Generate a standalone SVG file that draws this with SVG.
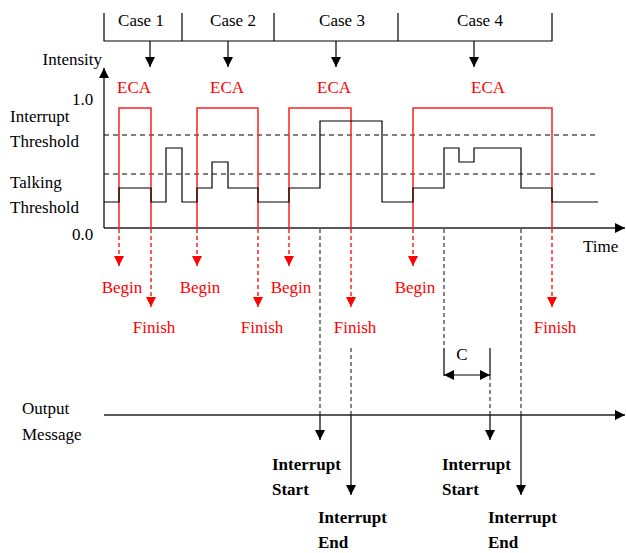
<svg xmlns="http://www.w3.org/2000/svg" width="626" height="553" viewBox="0 0 626 553">
<defs>
<style>
.t{font-family:'Liberation Serif','Times New Roman',serif;font-size:17px;fill:#000}
.t.red{fill:#ff0000}
.t.b{font-weight:bold}
.mid{text-anchor:middle}
.end{text-anchor:end}
.ln{stroke:#000;stroke-width:1.2;fill:none}
.ax{stroke:#222;stroke-width:1.4;fill:none}
.dsh{stroke:#000;stroke-width:1;stroke-dasharray:5 4;fill:none}
.bd{stroke:#333;stroke-width:1.2;stroke-dasharray:4 3;fill:none}
.rl{stroke:#ff2020;stroke-width:1.5;fill:none}
.rd{stroke:#ff2020;stroke-width:1.5;stroke-dasharray:4 3;fill:none}
</style>
<marker id="ab" viewBox="0 0 10 10" refX="10" refY="5" markerWidth="10" markerHeight="10" markerUnits="userSpaceOnUse" orient="auto"><path d="M0,0 L10,5 L0,10 z" fill="#000"/></marker>
<marker id="abs" viewBox="0 0 10 10" refX="0" refY="5" markerWidth="10" markerHeight="10" markerUnits="userSpaceOnUse" orient="auto"><path d="M10,0 L0,5 L10,10 z" fill="#000"/></marker>
<marker id="ar" viewBox="0 0 10 10" refX="10" refY="5" markerWidth="10" markerHeight="10" markerUnits="userSpaceOnUse" orient="auto"><path d="M0,0 L10,5 L0,10 z" fill="#ff0000"/></marker>
</defs>
<rect width="626" height="553" fill="#fff"/>

<g id="cases">
<path class="ln" d="M104,13 V41 H552 V13 M182,13 V41 M274,13 V41 M398,13 V41"/>
<text class="t mid" x="141" y="26">Case 1</text>
<text class="t mid" x="233" y="26">Case 2</text>
<text class="t mid" x="342" y="26">Case 3</text>
<text class="t mid" x="480" y="26">Case 4</text>
</g>

<g id="axes">
<line class="ax" x1="104" y1="228" x2="104" y2="68" marker-end="url(#ab)"/>
<line class="ax" x1="104" y1="228" x2="625" y2="228" marker-end="url(#ab)"/>
<text class="t end" x="102" y="65">Intensity</text>
<text class="t" x="72" y="105">1.0</text>
<text class="t" x="72" y="240">0.0</text>
<text class="t" x="583" y="252">Time</text>
<text class="t" x="10" y="122">Interrupt</text>
<text class="t" x="10" y="147">Threshold</text>
<text class="t" x="10" y="188">Talking</text>
<text class="t" x="10" y="213">Threshold</text>
</g>

<g id="thresholds">
<line class="dsh" x1="104" y1="135" x2="597" y2="135"/>
<line class="dsh" x1="104" y1="174" x2="597" y2="174"/>
</g>

<g id="eca">
<path class="rl" d="M119,228 V108 H151 V228"/>
<path class="rl" d="M197,228 V108 H258 V228"/>
<path class="rl" d="M289,228 V108 H351 V228"/>
<path class="rl" d="M413,228 V108 H552 V228"/>
<text class="t red mid" x="134" y="93">ECA</text>
<text class="t red mid" x="227" y="93">ECA</text>
<text class="t red mid" x="334" y="93">ECA</text>
<text class="t red mid" x="488" y="93">ECA</text>
</g>

<g id="signal">
<path class="ln" d="M104,202 H119 V188 H151 V202 H166 V148 H182 V202 H197 V188 H212 V162 H228 V188 H258 V202 H289 V188 H320 V121 H382 V202 H413 V188 H444 V148 H459 V162 H474 V148 H521 V188 H552 V202 H598"/>
</g>

<g id="case-arrows">
<line class="ln" x1="150" y1="41" x2="150" y2="67" marker-end="url(#ab)"/>
<line class="ln" x1="228" y1="41" x2="228" y2="67" marker-end="url(#ab)"/>
<line class="ln" x1="336" y1="41" x2="336" y2="67" marker-end="url(#ab)"/>
<line class="ln" x1="474" y1="41" x2="474" y2="67" marker-end="url(#ab)"/>
</g>

<g id="begin-finish">
<line class="rd" x1="119" y1="229" x2="119" y2="266" marker-end="url(#ar)"/>
<line class="rd" x1="197" y1="229" x2="197" y2="266" marker-end="url(#ar)"/>
<line class="rd" x1="289" y1="229" x2="289" y2="266" marker-end="url(#ar)"/>
<line class="rd" x1="413" y1="229" x2="413" y2="266" marker-end="url(#ar)"/>
<line class="rd" x1="151" y1="229" x2="151" y2="307" marker-end="url(#ar)"/>
<line class="rd" x1="258" y1="229" x2="258" y2="307" marker-end="url(#ar)"/>
<line class="rd" x1="351" y1="229" x2="351" y2="307" marker-end="url(#ar)"/>
<line class="rd" x1="552" y1="229" x2="552" y2="307" marker-end="url(#ar)"/>
<text class="t red mid" x="122" y="293">Begin</text>
<text class="t red mid" x="200" y="293">Begin</text>
<text class="t red mid" x="291" y="293">Begin</text>
<text class="t red mid" x="415" y="293">Begin</text>
<text class="t red mid" x="154" y="333">Finish</text>
<text class="t red mid" x="262" y="333">Finish</text>
<text class="t red mid" x="355" y="333">Finish</text>
<text class="t red mid" x="555" y="333">Finish</text>
</g>

<g id="output">
<line class="ax" x1="104" y1="415" x2="625" y2="415" marker-end="url(#ab)"/>
<text class="t" x="22" y="414">Output</text>
<text class="t" x="22" y="440">Message</text>
</g>

<g id="connectors">
<line class="bd" x1="320" y1="229" x2="320" y2="415"/>
<line class="ln" x1="320" y1="415" x2="320" y2="440" marker-end="url(#ab)"/>
<line class="bd" x1="351" y1="348" x2="351" y2="415"/>
<line class="ln" x1="351" y1="415" x2="351" y2="495" marker-end="url(#ab)"/>
<line class="bd" x1="444" y1="229" x2="444" y2="348"/>
<line class="ln" x1="444" y1="348" x2="444" y2="376"/>
<line class="ln" x1="490" y1="348" x2="490" y2="376"/>
<line class="ln" x1="444" y1="375" x2="490" y2="375" marker-start="url(#abs)" marker-end="url(#ab)"/>
<line class="bd" x1="490" y1="376" x2="490" y2="415"/>
<line class="ln" x1="490" y1="415" x2="490" y2="440" marker-end="url(#ab)"/>
<line class="bd" x1="521" y1="229" x2="521" y2="415"/>
<line class="ln" x1="521" y1="415" x2="521" y2="495" marker-end="url(#ab)"/>
<text class="t mid" x="462" y="360">C</text>
</g>

<g id="interrupts">
<text class="t b" x="272" y="470">Interrupt</text>
<text class="t b" x="272" y="495">Start</text>
<text class="t b" x="318" y="523">Interrupt</text>
<text class="t b" x="318" y="548">End</text>
<text class="t b" x="442" y="470">Interrupt</text>
<text class="t b" x="442" y="495">Start</text>
<text class="t b" x="488" y="523">Interrupt</text>
<text class="t b" x="488" y="548">End</text>
</g>
</svg>
